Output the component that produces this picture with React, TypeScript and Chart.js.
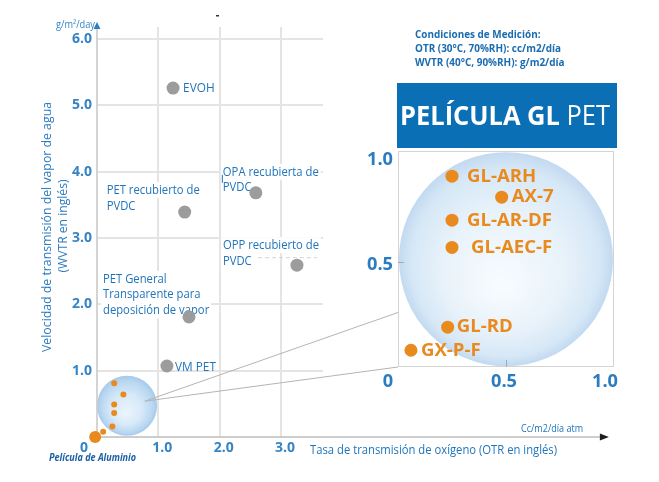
import React, { useEffect, useRef } from "react";
import { Chart, registerables } from "chart.js";

Chart.register(...registerables);

// ---------------- data ----------------
const filmNames: string[][] = [
  ["EVOH"],
  ["PET recubierto de", "PVDC"],
  ["OPA recubierta de", "PVDC"],
  ["OPP recubierto de", "PVDC"],
  ["PET General", "Transparente para", "deposición de vapor"],
  ["VM PET"],
];
const filmOtr = [1.24, 1.43, 2.59, 3.26, 1.5, 1.14];
const filmWvtr = [5.26, 3.39, 3.68, 2.59, 1.81, 1.07];

const glNames = ["GL-ARH", "AX-7", "GL-AR-DF", "GL-AEC-F", "GL-RD", "GX-P-F"];
const glOtr = [0.25, 0.48, 0.25, 0.25, 0.23, 0.06];
const glWvtr = [0.91, 0.81, 0.7, 0.57, 0.19, 0.08];

// the same GL films as sketched in the overview bubble
const glOverviewOtr = [0.28, 0.43, 0.28, 0.28, 0.25, 0.1];
const glOverviewWvtr = [0.81, 0.64, 0.49, 0.36, 0.16, 0.08];

const aluminumName = "Película de Aluminio";
const aluminumOtr = [-0.03];
const aluminumWvtr = [0];

const mainXTicks = [1, 2, 3];
const mainYTicks = [1, 2, 3, 4, 5, 6];
const insetXTicks = [0, 0.5, 1];
const insetYTicks = [0.5, 1];

const zoomCenter = { otr: 0.49, wvtr: 0.47 };
const zoomFrom = { otr: 0.78, wvtr: 0.54 };
const zoomToWvtr = [0.26, 0];

const conditions = [
  "Condiciones de Medición:",
  "OTR (30°C, 70%RH): cc/m2/día",
  "WVTR (40°C, 90%RH): g/m2/día",
];
const titleBold = "PELÍCULA GL ";
const titleLight = "PET";
const yTitle = ["Velocidad de transmisión del vapor de agua", "(WVTR en inglés)"];
const xTitle = "Tasa de transmisión de oxígeno (OTR en inglés)";
const xUnit = "Cc/m2/día atm";
const yUnit = "g/m²/day";

// ---------------- styles ----------------
const BLUE = "#1f74bb";
const TICK = "#3584c6";
const ORANGE = "#e98a1f";
const GRAY = "#9c9c9c";
const FONT = '"Open Sans", "Noto Sans", sans-serif';
const filmLabelOffsets = [
  [10, 0],
  [-78, -22],
  [-33, -21],
  [-74, -20],
  [-86, -38],
  [8, 1],
];
const glLabelGap = [15, 10, 15, 19, 9, 10];
const INSET = { left: 360, top: 140, width: 270, height: 255 };
const X_AXIS_END = 8.2;

function drawText(
  ctx: CanvasRenderingContext2D,
  text: string,
  x: number,
  y: number,
  font: string,
  color: string,
  opts: { align?: string; width?: number; scale?: number; baseline?: CanvasTextBaseline } = {}
) {
  ctx.save();
  ctx.font = font;
  ctx.fillStyle = color;
  ctx.textBaseline = opts.baseline || "middle";
  ctx.textAlign = "left";
  const w = ctx.measureText(text).width;
  let sx = opts.scale ?? 1;
  if (opts.width) sx = opts.width / w;
  const dw = w * sx;
  let x0 = x;
  if (opts.align === "center") x0 = x - dw / 2;
  else if (opts.align === "right") x0 = x - dw;
  ctx.translate(x0, y);
  ctx.scale(sx, 1);
  ctx.fillText(text, 0, 0);
  ctx.restore();
  return dw;
}

function scaleFor(ctx: CanvasRenderingContext2D, font: string, ref: string, width: number) {
  ctx.save();
  ctx.font = font;
  const w = ctx.measureText(ref).width;
  ctx.restore();
  return width / w;
}

function drawBubble(ctx: CanvasRenderingContext2D, cx: number, cy: number, r: number, deep: boolean) {
  ctx.save();
  const g = ctx.createRadialGradient(cx - r * 0.05, cy + r * 0.25, r * 0.05, cx, cy, r);
  if (deep) {
    g.addColorStop(0, "#eaf4fc");
    g.addColorStop(0.5, "#d6e9f8");
    g.addColorStop(0.85, "#b9d7f1");
    g.addColorStop(1, "#a6c9ec");
  } else {
    g.addColorStop(0, "#f7fbfe");
    g.addColorStop(0.55, "#e8f2fa");
    g.addColorStop(0.88, "#d5e7f6");
    g.addColorStop(1, "#c2d9f0");
  }
  ctx.fillStyle = g;
  ctx.beginPath();
  ctx.arc(cx, cy, r, 0, Math.PI * 2);
  ctx.fill();
  ctx.restore();
}

function makeInsetPlugin() {
  return {
    id: "insetDecor",
    beforeDatasetsDraw(chart: any) {
      const { ctx, chartArea: a } = chart;
      const xs = chart.scales.x;
      const ys = chart.scales.y;
      ctx.save();
      ctx.fillStyle = "#ffffff";
      ctx.fillRect(a.left, a.top, a.right - a.left, a.bottom - a.top);
      drawBubble(ctx, xs.getPixelForValue(0.5), ys.getPixelForValue(0.514), (a.right - a.left) / 2 - 1, false);
      ctx.strokeStyle = "#d4d4d4";
      ctx.lineWidth = 1;
      ctx.strokeRect(a.left + 0.5, a.top + 0.5, a.right - a.left - 1, a.bottom - a.top - 1);
      ctx.strokeStyle = "#a8a8a8";
      const tx = Math.round(xs.getPixelForValue(0.5)) + 0.5;
      ctx.beginPath();
      ctx.moveTo(tx, a.bottom);
      ctx.lineTo(tx, a.bottom - 7);
      const ty = Math.round(ys.getPixelForValue(0.5)) + 0.5;
      ctx.moveTo(a.left, ty);
      ctx.lineTo(a.left + 6, ty);
      ctx.stroke();
      ctx.restore();
    },
    afterDatasetsDraw(chart: any) {
      const { ctx, chartArea: a } = chart;
      const xs = chart.scales.x;
      const ys = chart.scales.y;
      const lf = `bold 17px ${FONT}`;
      const sx = scaleFor(ctx, lf, "GL-AR-DF", 85);
      glNames.forEach((n, i) => {
        const px = xs.getPixelForValue(glOtr[i]);
        const py = ys.getPixelForValue(glWvtr[i]);
        drawText(ctx, n, px + glLabelGap[i], py + 0.5, lf, ORANGE, { scale: sx });
      });
      const tf = `bold 18px ${FONT}`;
      const tsx = scaleFor(ctx, tf, "0.5", 26);
      insetYTicks.forEach((v) => {
        drawText(ctx, v.toFixed(1), a.left - 5, ys.getPixelForValue(v) + 3, tf, "#2b7cc1", { align: "right", scale: tsx });
      });
      insetXTicks.forEach((v, i) => {
        const lab = v === 0 ? "0" : v.toFixed(1);
        const dx = i === 0 ? -10 : i === insetXTicks.length - 1 ? -9 : -2;
        drawText(ctx, lab, xs.getPixelForValue(v) + dx, a.bottom + 15, tf, "#2b7cc1", { align: "center", scale: tsx });
      });
    },
  };
}

function makeMainPlugin(getInset: () => any) {
  return {
    id: "mainDecor",
    beforeDatasetsDraw(chart: any) {
      const { ctx, chartArea: a } = chart;
      const xs = chart.scales.x;
      const ys = chart.scales.y;
      const x0 = xs.getPixelForValue(0);
      const y0 = ys.getPixelForValue(0);

      // film labels with white backing
      const lf = `13px ${FONT}`;
      const lsx = scaleFor(ctx, lf, "PET recubierto de", 93);
      const bf = `13.5px ${FONT}`;
      const bsx = scaleFor(ctx, bf, "VM PET", 41);
      filmNames.forEach((lines, i) => {
        const px = xs.getPixelForValue(filmOtr[i]);
        const py = ys.getPixelForValue(filmWvtr[i]);
        const [dx, dy] = filmLabelOffsets[i];
        const single = lines.length === 1;
        const font = single ? bf : lf;
        const sc = single ? bsx : lsx;
        lines.forEach((t, j) => {
          const ly = py + dy + j * 15.7;
          ctx.save();
          ctx.font = font;
          const w = ctx.measureText(t).width * sc;
          ctx.fillStyle = "#ffffff";
          if (!single) ctx.fillRect(px + dx - 2, ly - 8, w + 4, 16);
          ctx.restore();
          drawText(ctx, t, px + dx, ly, font, BLUE, { scale: sc });
        });
      });

      // small artefacts near OPA / OPP labels
      ctx.save();
      const opaX = xs.getPixelForValue(filmOtr[2]) + filmLabelOffsets[2][0];
      const opaY = ys.getPixelForValue(filmWvtr[2]) + filmLabelOffsets[2][1];
      ctx.strokeStyle = BLUE;
      ctx.lineWidth = 1;
      ctx.beginPath();
      ctx.moveTo(opaX - 0.5, opaY + 3);
      ctx.lineTo(opaX - 0.5, opaY + 11);
      ctx.stroke();
      const oppX = xs.getPixelForValue(filmOtr[3]) + filmLabelOffsets[3][0];
      const oppY = ys.getPixelForValue(filmWvtr[3]) + filmLabelOffsets[3][1] + 12.5;
      ctx.strokeStyle = "#c9d6e3";
      ctx.setLineDash([4, 3]);
      ctx.beginPath();
      ctx.moveTo(oppX + 35, oppY);
      ctx.lineTo(oppX + 94, oppY);
      ctx.stroke();
      ctx.setLineDash([]);
      ctx.restore();

      // zoom bubble + connectors
      const bx = xs.getPixelForValue(zoomCenter.otr);
      const by = ys.getPixelForValue(zoomCenter.wvtr);
      drawBubble(ctx, bx, by, 30, true);
      const inset = getInset();
      ctx.save();
      ctx.strokeStyle = "#b4b4b4";
      ctx.lineWidth = 1;
      const fx = xs.getPixelForValue(zoomFrom.otr);
      const fy = ys.getPixelForValue(zoomFrom.wvtr);
      zoomToWvtr.forEach((v) => {
        let tx = 398;
        let ty = 367 - v * 210;
        if (inset && inset.scales && inset.scales.x) {
          tx = INSET.left + inset.scales.x.getPixelForValue(0);
          ty = INSET.top + inset.scales.y.getPixelForValue(v);
        }
        ctx.beginPath();
        ctx.moveTo(fx, fy);
        ctx.lineTo(tx, ty);
        ctx.stroke();
      });
      ctx.restore();

      // axes
      ctx.save();
      ctx.strokeStyle = "#c6c6c6";
      ctx.lineWidth = 1.5;
      ctx.beginPath();
      ctx.moveTo(x0, y0);
      ctx.lineTo(x0, a.top);
      ctx.stroke();
      ctx.fillStyle = "#2a7fc1";
      ctx.beginPath();
      ctx.moveTo(x0, a.top - 5);
      ctx.lineTo(x0 - 3.5, a.top + 2);
      ctx.lineTo(x0 + 3.5, a.top + 2);
      ctx.closePath();
      ctx.fill();
      const xe = xs.getPixelForValue(X_AXIS_END);
      ctx.strokeStyle = "#bdbdbd";
      ctx.beginPath();
      ctx.moveTo(x0, y0);
      ctx.lineTo(xe, y0);
      ctx.stroke();
      ctx.fillStyle = "#1e1e1e";
      ctx.beginPath();
      ctx.moveTo(xe, y0 - 3.5);
      ctx.lineTo(xe + 9, y0);
      ctx.lineTo(xe, y0 + 3.5);
      ctx.closePath();
      ctx.fill();
      ctx.restore();
    },
    afterDraw(chart: any) {
      const { ctx, chartArea: a } = chart;
      const xs = chart.scales.x;
      const ys = chart.scales.y;
      const x0 = xs.getPixelForValue(0);
      const y0 = ys.getPixelForValue(0);

      drawText(ctx, "0", x0 - 13, y0 + 11, `bold 14px ${FONT}`, TICK, { align: "center" });
      drawText(ctx, yUnit, x0 - 2, a.top - 2, `10px ${FONT}`, TICK, { align: "right", width: 39 });

      // y-axis title (rotated)
      ctx.save();
      ctx.translate(47, 227);
      ctx.rotate(-Math.PI / 2);
      drawText(ctx, yTitle[0], 0, 0, `13px ${FONT}`, "#2d7bc0", { align: "center", width: 250 });
      ctx.restore();
      ctx.save();
      ctx.translate(63, 226);
      ctx.rotate(-Math.PI / 2);
      drawText(ctx, yTitle[1], 0, 0, `13px ${FONT}`, "#2d7bc0", { align: "center", width: 93 });
      ctx.restore();

      drawText(ctx, xTitle, 310, 451, `12px ${FONT}`, BLUE, { width: 247 });
      drawText(ctx, xUnit, 521, 429, `11px ${FONT}`, BLUE, { width: 62 });
      drawText(ctx, aluminumName, 49, 458, `italic bold 10px ${FONT}`, "#1b5fa5", { width: 87 });

      // measuring conditions
      const cf = `bold 11px ${FONT}`;
      const csx = scaleFor(ctx, cf, conditions[1], 146);
      conditions.forEach((t, i) => drawText(ctx, t, 415, 35 + i * 14, cf, "#1a6cb0", { scale: csx }));

      // title box
      ctx.save();
      ctx.fillStyle = "#0b6fb5";
      ctx.fillRect(397, 83, 220, 65);
      ctx.restore();
      const tb = `bold 27px ${FONT}`;
      const tl = `27px ${FONT}`;
      ctx.save();
      ctx.font = tb;
      const wb = ctx.measureText(titleBold).width;
      ctx.font = tl;
      const wl = ctx.measureText(titleLight).width;
      ctx.restore();
      const tsx = 210 / (wb + wl);
      drawText(ctx, titleBold, 400, 125, tb, "#ffffff", { scale: tsx, baseline: "alphabetic" });
      drawText(ctx, titleLight, 400 + wb * tsx, 125, tl, "#ffffff", { scale: tsx, baseline: "alphabetic" });

      // small stray mark at top
      ctx.save();
      ctx.fillStyle = "#333333";
      ctx.fillRect(216, 15, 3, 1.5);
      ctx.restore();
    },
  };
}

export default function App() {
  const mainRef = useRef<HTMLCanvasElement>(null);
  const insetRef = useRef<HTMLCanvasElement>(null);

  useEffect(() => {
    const inset = new Chart(insetRef.current as HTMLCanvasElement, {
      type: "scatter",
      data: {
        datasets: [
          {
            data: glOtr.map((x, i) => ({ x, y: glWvtr[i] })),
            pointRadius: 6.5,
            backgroundColor: ORANGE,
            borderWidth: 0,
            clip: false,
          },
        ],
      },
      options: {
        responsive: false,
        animation: false,
        events: [],
        layout: { padding: { left: 38, right: 16, top: 11, bottom: 28 } },
        plugins: { legend: { display: false }, tooltip: { enabled: false } },
        scales: {
          x: { type: "linear", min: 0, max: 1, display: false },
          y: { type: "linear", min: 0, max: 1.03, display: false },
        },
      },
      plugins: [makeInsetPlugin()],
    } as any);

    const tickFont = { family: FONT, size: 14, weight: "bold" as const };
    const main = new Chart(mainRef.current as HTMLCanvasElement, {
      type: "scatter",
      data: {
        datasets: [
          {
            data: filmOtr.map((x, i) => ({ x, y: filmWvtr[i] })),
            pointRadius: 6.5,
            backgroundColor: GRAY,
            borderWidth: 0,
            clip: false,
          },
          {
            data: glOverviewOtr.map((x, i) => ({ x, y: glOverviewWvtr[i] })),
            pointRadius: 3,
            backgroundColor: ORANGE,
            borderWidth: 0,
            clip: false,
          },
          {
            data: aluminumOtr.map((x, i) => ({ x, y: aluminumWvtr[i] })),
            pointRadius: 6,
            backgroundColor: ORANGE,
            borderWidth: 0,
            clip: false,
          },
        ],
      },
      options: {
        responsive: false,
        animation: false,
        events: [],
        layout: { padding: { left: 0, right: 336, top: 27, bottom: 0 } },
        plugins: { legend: { display: false }, tooltip: { enabled: false } },
        scales: {
          x: {
            type: "linear",
            min: 0,
            max: 3.685,
            afterBuildTicks: (s: any) => {
              s.ticks = mainXTicks.map((v) => ({ value: v }));
            },
            afterFit: (s: any) => {
              s.height = 45;
            },
            grid: { color: "#e4e4e4", lineWidth: 2, drawTicks: false },
            border: { display: false },
            ticks: {
              font: tickFont,
              color: TICK,
              padding: 3,
              labelOffset: 4,
              maxRotation: 0,
              autoSkip: false,
              callback: (v: any) => Number(v).toFixed(1),
            },
          },
          y: {
            type: "linear",
            min: 0,
            max: 6.18,
            afterBuildTicks: (s: any) => {
              s.ticks = mainYTicks.map((v) => ({ value: v }));
            },
            afterFit: (s: any) => {
              s.width = 97;
            },
            grid: { color: "#e4e4e4", lineWidth: 2, drawTicks: false },
            border: { display: false },
            ticks: {
              font: tickFont,
              color: TICK,
              padding: 5,
              autoSkip: false,
              callback: (v: any) => Number(v).toFixed(1),
            },
          },
        },
      },
      plugins: [makeMainPlugin(() => inset)],
    } as any);

    return () => {
      main.destroy();
      inset.destroy();
    };
  }, []);

  return (
    <div
      style={{
        position: "absolute",
        left: 0,
        top: 0,
        width: 659,
        height: 482,
        background: "#ffffff",
        overflow: "hidden",
      }}
    >
      <canvas ref={mainRef} width={659} height={482} style={{ position: "absolute", left: 0, top: 0 }} />
      <canvas
        ref={insetRef}
        width={INSET.width}
        height={INSET.height}
        style={{ position: "absolute", left: INSET.left, top: INSET.top }}
      />
    </div>
  );
}
